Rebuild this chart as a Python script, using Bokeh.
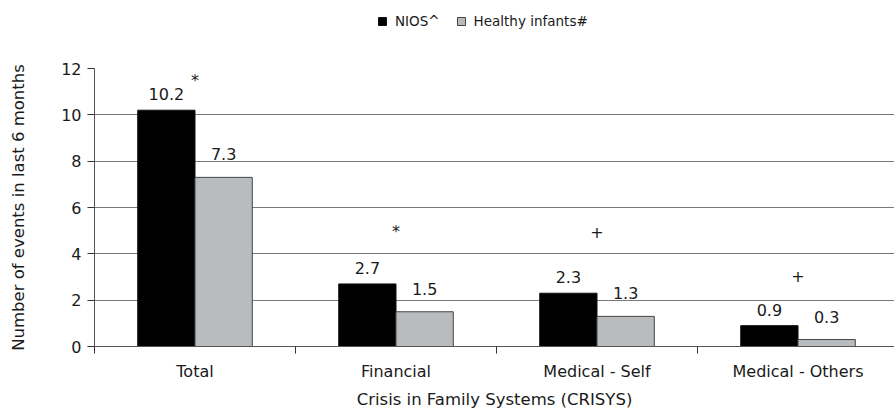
from bokeh.plotting import figure
from bokeh.layouts import column
from bokeh.models import ColumnDataSource, FixedTicker, Legend, LegendItem, Range1d
from bokeh.core.properties import value
from bokeh.embed import file_html
from bokeh.resources import INLINE

categories = ["Total", "Financial", "Medical - Self", "Medical - Others"]
nios = [10.2, 2.7, 2.3, 0.9]
healthy = [7.3, 1.5, 1.3, 0.3]
sig_marks = ["*", "*", "+", "+"]
sig_y = [11.5, 4.95, 4.95, 3.05]
series_names = ["NIOS^", "Healthy infants#"]
y_ticks = [0, 2, 4, 6, 8, 10, 12]

FONT = "DejaVu Sans"
TXT = "#1a1a1a"
BW = 0.285
BLACK = "#000000"
GRAY = "#b8bcbe"

xc = [i + 0.5 for i in range(len(categories))]
src = ColumnDataSource(dict(
    x=xc,
    xb=[x - BW / 2 for x in xc],
    xg=[x + BW / 2 for x in xc],
    nios=nios, healthy=healthy,
    nl=[f"{v:.1f}" for v in nios],
    hl=[f"{v:.1f}" for v in healthy],
))

# ---- legend strip (bars drawn out of its view, only the legend shows) ----
lg = figure(width=894, height=58, output_backend="svg", toolbar_location=None,
            x_range=Range1d(100, 101), y_range=Range1d(100, 101),
            x_axis_location=None, y_axis_location=None,
            min_border_left=0, min_border_right=0, min_border_top=0, min_border_bottom=0)
lg.outline_line_color = None
lg.xgrid.grid_line_color = None
lg.ygrid.grid_line_color = None
lb = lg.vbar(x="xb", top="nios", width=BW, source=src, fill_color=BLACK, line_color="#111111")
lgr = lg.vbar(x="xg", top="healthy", width=BW, source=src, fill_color=GRAY, line_color="#444444")
legend = Legend(items=[LegendItem(label=series_names[0], renderers=[lb], index=0),
                       LegendItem(label=series_names[1], renderers=[lgr], index=0)],
                orientation="horizontal", location=(283, 29),
                label_text_font=FONT, label_text_font_size="13.5px", label_text_color=TXT,
                glyph_width=10, glyph_height=10, spacing=16, label_standoff=8,
                border_line_color=None, background_fill_alpha=0,
                margin=0, padding=2, label_height=16)
lg.add_layout(legend)

# ---- main chart ----
p = figure(width=894, height=356, output_backend="svg", toolbar_location=None,
           x_range=Range1d(0, 3.98), y_range=Range1d(0, 12),
           min_border_left=94, min_border_right=0, min_border_bottom=68, min_border_top=10)
p.outline_line_color = None

rb = p.vbar(x="xb", top="nios", width=BW, source=src, fill_color=BLACK, line_color="#111111")
rg = p.vbar(x="xg", top="healthy", width=BW, source=src, fill_color=GRAY, line_color="#444444")

p.text(x="xb", y="nios", text="nl", source=src, text_align="center", text_baseline="alphabetic",
       y_offset=-16, text_font=value(FONT), text_font_size="16px", text_color=TXT)
p.text(x="xg", y="healthy", text="hl", source=src, text_align="center", text_baseline="alphabetic",
       y_offset=-23, text_font=value(FONT), text_font_size="16px", text_color=TXT)

# significance markers at category centres
msrc = ColumnDataSource(dict(x=xc, y=sig_y, t=sig_marks))
p.text(x="x", y="y", text="t", source=msrc, text_align="center", text_baseline="middle",
       text_font=value(FONT), text_font_size="16px", text_color=TXT)

# axes
p.yaxis.ticker = FixedTicker(ticks=y_ticks)
p.yaxis.axis_label = "Number of events in last 6 months"
p.yaxis.axis_label_standoff = 30
p.yaxis.major_tick_out = 7
p.yaxis.major_tick_in = 0
p.yaxis.minor_tick_line_color = None
p.yaxis.major_label_standoff = 6

p.xaxis.ticker = FixedTicker(ticks=xc, minor_ticks=[0, 1, 2, 3, 4])
p.xaxis.major_label_overrides = {x: c for x, c in zip(xc, categories)}
p.xaxis.major_tick_out = 7
p.xaxis.minor_tick_out = 7
p.xaxis.minor_tick_in = 0
p.xaxis.minor_tick_line_color = "#333333"
p.xaxis.axis_label = "Crisis in Family Systems (CRISYS)"
p.xaxis.axis_label_standoff = 6
p.xaxis.major_label_standoff = 8

for ax in (p.xaxis, p.yaxis):
    ax.axis_line_color = "#555555"
    ax.major_tick_line_color = "#333333"
    ax.major_label_text_font = FONT
    ax.major_label_text_font_size = "16px"
    ax.major_label_text_color = TXT
    ax.axis_label_text_font = FONT
    ax.axis_label_text_font_size = "16.5px"
    ax.axis_label_text_font_style = "normal"
    ax.axis_label_text_color = TXT
p.xaxis.major_tick_line_color = None

p.xgrid.grid_line_color = None
p.ygrid.ticker = FixedTicker(ticks=y_ticks)
p.ygrid.grid_line_color = "#7a7a7a"
p.ygrid.grid_line_width = 1

layout = column(lg, p, spacing=0)
open("out.html", "w").write(file_html(layout, INLINE))
